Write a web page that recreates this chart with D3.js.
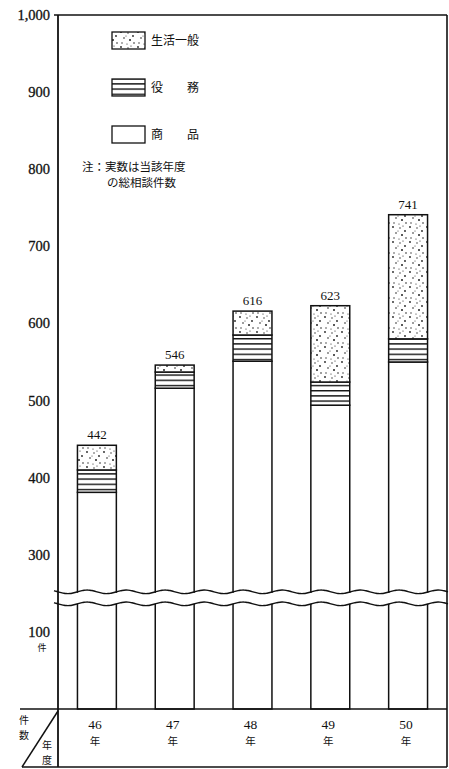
<!DOCTYPE html>
<html><head><meta charset="utf-8">
<script src="https://cdn.jsdelivr.net/npm/d3@7"></script>
<style>
html,body{margin:0;padding:0;background:#fff;}
svg{display:block;}
</style></head>
<body>
<script>
// ---- data ----
const years = ["46", "47", "48", "49", "50"];
const goods = [381, 516, 551, 494, 550];      // 商品
const services = [29, 21, 34, 30, 30];        // 役務
const living = [32, 9, 31, 99, 161];          // 生活一般
const totals = [442, 546, 616, 623, 741];
const yTicks = [100, 300, 400, 500, 600, 700, 800, 900, 1000];
const seriesKeys = ["goods", "services", "living"];
const legendLabels = ["生活一般", "役　　務", "商　　品"];
const noteLines = ["注：実数は当該年度", "の総相談件数"];

// ---- setup ----
const W = 449, H = 769;
const pLeft = 58, pRight = 447, pTop = 15, pBase = 709, pBottom = 767;
const svg = d3.select("body").append("svg").attr("width", W).attr("height", H);
const serif = "'Liberation Serif','DejaVu Serif',serif";
const cjk = "'Noto Sans CJK JP','Noto Sans CJK SC',sans-serif";

// axis break: values above the break are shifted down by 100
const disp = v => v > 200 ? v - 100 : v;
const y = d3.scaleLinear().domain([0, 900]).range([pBase, pTop]);
const x = d3.scaleBand().domain(years).range([pLeft, pRight]).paddingInner(0.5).paddingOuter(0.25);

// patterns
const defs = svg.append("defs");
const pS = defs.append("pattern").attr("id", "stripes").attr("patternUnits", "userSpaceOnUse")
  .attr("width", 6).attr("height", 5.2);
pS.append("rect").attr("width", 6).attr("height", 5.2).attr("fill", "#fff");
pS.append("rect").attr("y", 0).attr("width", 6).attr("height", 1.4).attr("fill", "#111");
const pD = defs.append("pattern").attr("id", "dots").attr("patternUnits", "userSpaceOnUse")
  .attr("width", 17).attr("height", 15);
pD.append("rect").attr("width", 17).attr("height", 15).attr("fill", "#fff");
[[2,2,0.9],[9,3,0.7],[14,6,0.9],[5,8,0.8],[11,10,1.0],[3,13,0.7],[15,13,0.8],[8,14,0.6],[12,1,0.6],[7,6,0.5]]
  .forEach(([cx, cy, r]) => pD.append("circle").attr("cx", cx).attr("cy", cy).attr("r", r).attr("fill", "#222"));
const fills = { goods: "#fff", services: "url(#stripes)", living: "url(#dots)" };

// stacked data
const table = years.map((yr, i) => ({ year: yr, goods: goods[i], services: services[i], living: living[i] }));
const stack = d3.stack().keys(seriesKeys)(table);

const g = svg.append("g");
stack.forEach(layer => {
  g.append("g").selectAll("rect").data(layer).join("rect")
    .attr("x", d => x(d.data.year))
    .attr("width", x.bandwidth())
    .attr("y", d => y(disp(d[1])))
    .attr("height", d => y(disp(d[0])) - y(disp(d[1])))
    .attr("fill", fills[layer.key])
    .attr("stroke", "#111").attr("stroke-width", 1.5);
});

// total labels
svg.append("g").selectAll("text").data(table).join("text")
  .attr("x", d => x(d.year) + x.bandwidth() / 2)
  .attr("y", (d, i) => y(disp(totals[i])) - 6)
  .attr("text-anchor", "middle")
  .attr("font-family", serif).attr("font-size", 13).attr("fill", "#111")
  .text((d, i) => totals[i]);

// axis break
const brk1 = y(disp(150)) - 1.5, brk2 = brk1 + 12;
svg.append("rect").attr("x", pLeft + 1).attr("y", brk1 + 1).attr("width", pRight - pLeft + 2).attr("height", brk2 - brk1 - 1).attr("fill", "#fff");
const wave = d3.line().curve(d3.curveBasis);
[brk1, brk2].forEach(by => {
  const pts = d3.range(pLeft - 4, W + 1, 2).map(px => [px, by + 1.8 * Math.sin((px - pLeft) / 39 * 2 * Math.PI)]);
  svg.append("path").attr("d", wave(pts)).attr("fill", "none").attr("stroke", "#111").attr("stroke-width", 1.4);
});

// frame
svg.append("line").attr("x1", pLeft - 4).attr("x2", pRight).attr("y1", pTop).attr("y2", pTop).attr("stroke", "#111").attr("stroke-width", 1.6);
svg.append("line").attr("x1", pLeft).attr("x2", pLeft).attr("y1", pTop).attr("y2", pBottom).attr("stroke", "#111").attr("stroke-width", 1.8);
svg.append("line").attr("x1", pRight).attr("x2", pRight).attr("y1", pTop).attr("y2", pBottom).attr("stroke", "#111").attr("stroke-width", 1.6);
svg.append("line").attr("x1", 20).attr("x2", pRight).attr("y1", pBase).attr("y2", pBase).attr("stroke", "#111").attr("stroke-width", 1.5);
svg.append("line").attr("x1", 22).attr("x2", pRight).attr("y1", pBottom).attr("y2", pBottom).attr("stroke", "#111").attr("stroke-width", 1.3);
svg.append("line").attr("x1", pLeft).attr("x2", 22).attr("y1", pBase + 2).attr("y2", pBottom).attr("stroke", "#111").attr("stroke-width", 1.5);

// y tick labels (100 carries the unit 件 beneath it)
const yAxis = svg.append("g");
const tl = yAxis.selectAll("text").data(yTicks).join("text")
  .attr("x", 50).attr("y", d => y(disp(d)) + 5)
  .attr("text-anchor", "end")
  .attr("font-family", serif).attr("font-size", 14.5).attr("fill", "#111")
  .attr("stroke", "#111").attr("stroke-width", 0.3);
tl.append("tspan").text(d => d3.format(",")(d));
tl.filter(d => d === 100).append("tspan")
  .attr("x", 42).attr("dy", 14.5).attr("text-anchor", "middle")
  .attr("font-family", cjk).attr("font-size", 9).attr("stroke", "none").text("件");

// category labels
const cat = svg.append("g").selectAll("text").data(years).join("text")
  .attr("y", 729).attr("text-anchor", "middle").attr("fill", "#111");
cat.append("tspan").attr("x", d => x(d) + x.bandwidth() / 2 - 2)
  .attr("font-family", serif).attr("font-size", 13.5).text(d => d);
cat.append("tspan").attr("x", d => x(d) + x.bandwidth() / 2 - 2).attr("dy", 15.5)
  .attr("font-family", cjk).attr("font-size", 10.5).text("年");

// corner cell
[[["件", "数"], 24, 724], [["年", "度"], 47, 749]].forEach(([chars, tx, ty]) => {
  const t = svg.append("text").attr("y", ty).attr("text-anchor", "middle")
    .attr("font-family", cjk).attr("font-size", 10).attr("fill", "#111");
  chars.forEach((c, k) => t.append("tspan").attr("x", tx).attr("dy", k ? 14.5 : 0).text(c));
});

// legend
const legFills = ["url(#dots)", "url(#stripes)", "#fff"];
const legY = [32, 79, 126];
legendLabels.forEach((lab, i) => {
  svg.append("rect").attr("x", 112).attr("y", legY[i]).attr("width", 33).attr("height", 17)
    .attr("fill", legFills[i]).attr("stroke", "#111").attr("stroke-width", 1.3);
  svg.append("text").attr("x", 151).attr("y", legY[i] + 13)
    .attr("font-family", cjk).attr("font-size", 12).attr("fill", "#111").text(lab);
});
svg.append("text").attr("x", 82).attr("y", 171).attr("font-family", cjk).attr("font-size", 11.5).attr("fill", "#111").text(noteLines[0]);
svg.append("text").attr("x", 107).attr("y", 187).attr("font-family", cjk).attr("font-size", 11.5).attr("fill", "#111").text(noteLines[1]);
</script>
</body></html>
